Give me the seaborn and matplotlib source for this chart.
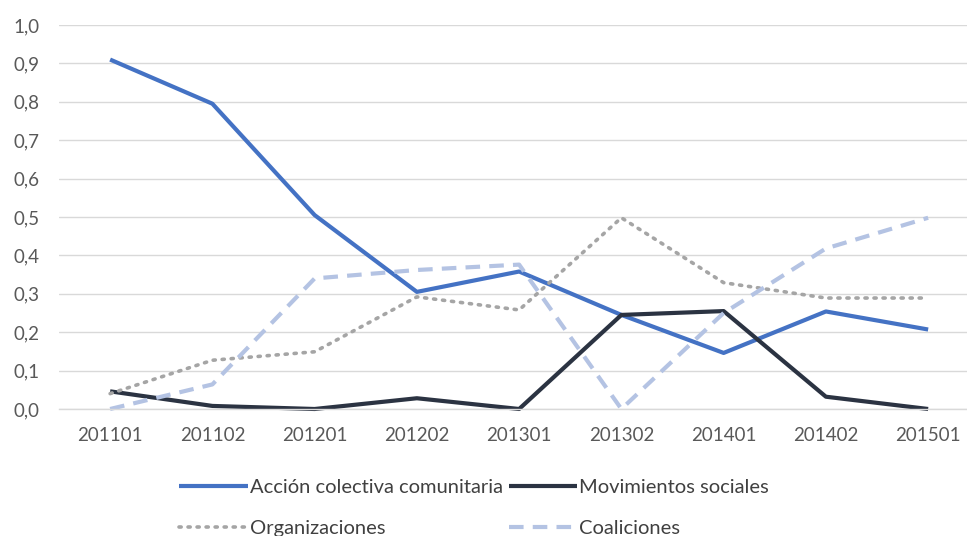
import matplotlib
matplotlib.use("Agg")
import matplotlib.pyplot as plt
import seaborn as sns
import pandas as pd

categories = ["201101", "201102", "201201", "201202", "201301",
              "201302", "201401", "201402", "201501"]
accion = [0.91, 0.795, 0.505, 0.305, 0.358, 0.245, 0.146, 0.254, 0.207]
movimientos = [0.046, 0.008, 0.0, 0.028, 0.0, 0.245, 0.255, 0.032, 0.0]
organizaciones = [0.04, 0.127, 0.149, 0.292, 0.258, 0.498, 0.329, 0.289, 0.289]
coaliciones = [0.0, 0.064, 0.34, 0.362, 0.376, 0.0, 0.25, 0.418, 0.498]
yticks = [0.0, 0.1, 0.2, 0.3, 0.4, 0.5, 0.6, 0.7, 0.8, 0.9, 1.0]

sns.set_theme(style="white")
plt.rcParams['font.family'] = ['Lato', 'DejaVu Sans']

fig = plt.figure(figsize=(9.67, 5.36), dpi=100)
W, H = 967, 536
ax = fig.add_axes([59 / W, 1 - 409 / H, (967 - 59) / W, (409 - 25) / H])

series = [
    ("Acción colectiva comunitaria", accion, "#4472C4", "-", 3.0),
    ("Movimientos sociales", movimientos, "#2B3342", "-", 3.0),
    ("Organizaciones", organizaciones, "#A5A5A5", (0, (0.6, 1.9)), 2.6),
    ("Coaliciones", coaliciones, "#B4C3E3", (0, (3.5, 2.2)), 3.0),
]

for name, vals, col, ls, lw in series:
    df = pd.DataFrame({"periodo": categories, "valor": vals})
    sns.lineplot(data=df, x="periodo", y="valor", ax=ax, color=col,
                 linestyle=ls, linewidth=lw, label=name, clip_on=False,
                 solid_capstyle="butt",
                 dash_capstyle="round" if name == "Organizaciones" else "butt")

ax.set_xlim(-0.5, 8.38)
ax.set_ylim(0, 1.0)
ax.set_yticks(yticks)
ax.set_yticklabels([f"{v:.1f}".replace(".", ",") for v in yticks])
ax.set_xlabel("")
ax.set_ylabel("")
ax.grid(axis="y", color="#D9D9D9", linewidth=1)
ax.set_axisbelow(True)
for s in ["top", "right", "left"]:
    ax.spines[s].set_visible(False)
ax.spines["bottom"].set_color("#D9D9D9")
ax.spines["bottom"].set_linewidth(1)
ax.tick_params(axis="both", length=0, labelsize=13.5, colors="#595959")
ax.tick_params(axis="x", pad=13)
ax.tick_params(axis="y", pad=14)

ax.get_legend().remove()
handles, labels = ax.get_legend_handles_labels()
order = [0, 2, 1, 3]
leg = fig.legend([handles[i] for i in order], [labels[i] for i in order],
                 ncol=2, loc="center",
                 bbox_to_anchor=(474 / W, 1 - 508 / H), frameon=False,
                 fontsize=14.5, handlelength=3.4, handletextpad=0.1,
                 columnspacing=0.3, labelspacing=1.15, labelcolor="#404040")

fig.savefig("out.png", dpi=100)
